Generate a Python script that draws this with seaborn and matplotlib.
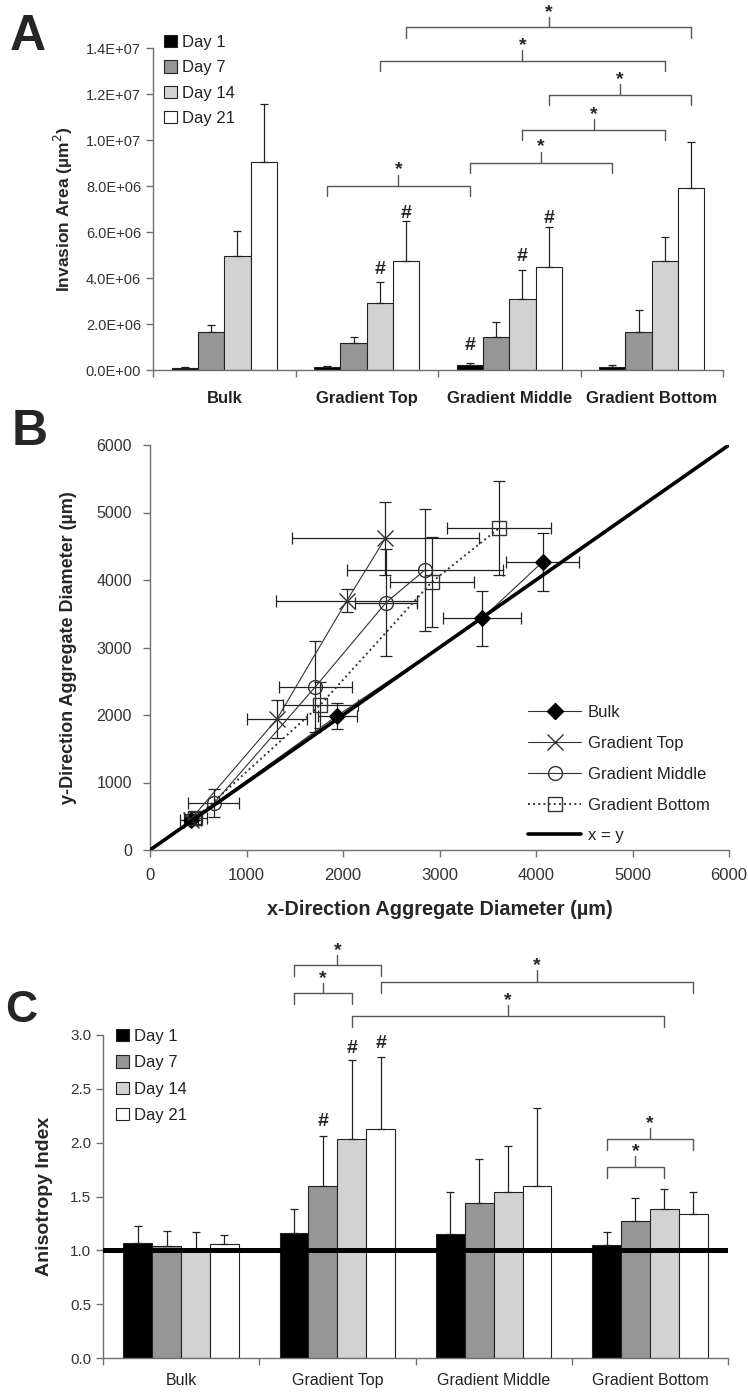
"""
Three-panel figure: invasion area, aggregate diameters, anisotropy index
"""

import matplotlib
matplotlib.use('Agg')
import matplotlib.pyplot as plt
import matplotlib.patches as mpatches
from matplotlib.lines import Line2D
import seaborn as sns
import numpy as np
import pandas as pd

sns.set_style('ticks')
plt.rcParams['font.family'] = ['Liberation Sans', 'DejaVu Sans']

groups = ['Bulk', 'Gradient Top', 'Gradient Middle', 'Gradient Bottom']
days = ['Day 1', 'Day 7', 'Day 14', 'Day 21']
day_colors = ['#000000', '#969696', '#d2d2d2', '#ffffff']

# Panel A - invasion area (um^2), rows = group, cols = day
area_mean = [[0.08e6, 1.64e6, 4.96e6, 9.03e6],
             [0.12e6, 1.16e6, 2.90e6, 4.75e6],
             [0.22e6, 1.45e6, 3.10e6, 4.49e6],
             [0.12e6, 1.64e6, 4.75e6, 7.90e6]]
area_err = [[0.05e6, 0.32e6, 1.10e6, 2.55e6],
            [0.04e6, 0.29e6, 0.94e6, 1.73e6],
            [0.07e6, 0.62e6, 1.25e6, 1.74e6],
            [0.08e6, 0.98e6, 1.05e6, 2.03e6]]

# Panel B - aggregate diameters (um), day 1/7/14/21
bulk_x = [430, 1940, 3440, 4070]
bulk_y = [440, 1990, 3430, 4270]
bulk_xerr = [70, 200, 400, 380]
bulk_yerr = [50, 195, 410, 430]
top_x = [420, 1315, 2040, 2440]
top_y = [450, 1940, 3695, 4620]
top_xerr = [110, 310, 730, 970]
top_yerr = [80, 275, 165, 540]
mid_x = [660, 1715, 2445, 2850]
mid_y = [690, 2420, 3665, 4150]
mid_xerr = [265, 377, 320, 810]
mid_yerr = [208, 676, 795, 900]
bot_x = [470, 1765, 2920, 3620]
bot_y = [470, 2150, 3970, 4770]
bot_xerr = [120, 390, 437, 540]
bot_yerr = [90, 340, 660, 690]

# Panel C - anisotropy index
aniso_mean = [[1.07, 1.04, 1.00, 1.06],
              [1.16, 1.60, 2.03, 2.13],
              [1.15, 1.44, 1.54, 1.60],
              [1.05, 1.27, 1.38, 1.34]]
aniso_err = [[0.16, 0.14, 0.17, 0.08],
             [0.22, 0.46, 0.74, 0.67],
             [0.39, 0.41, 0.43, 0.72],
             [0.12, 0.22, 0.19, 0.20]]

# significance marks: (group1, day1, group2, day2, bracket y, tick top)
a_brackets = [(1, 3, 3, 3, 14.9e6, 15.35e6), (1, 2, 3, 2, 13.43e6, 13.9e6),
              (2, 3, 3, 3, 11.96e6, 12.43e6), (2, 2, 3, 2, 10.43e6, 10.9e6),
              (2, 0, 3, 0, 9.0e6, 9.5e6), (1, 0, 2, 0, 8.0e6, 8.5e6)]
a_hash = [(1, 2, 4.35e6), (1, 3, 6.81e6), (2, 0, 1.05e6), (2, 2, 4.93e6), (2, 3, 6.6e6)]
c_brackets = [(1, 0, 1, 3, 3.649, 3.742), (1, 0, 1, 2, 3.392, 3.479),
              (1, 3, 3, 3, 3.494, 3.60), (1, 2, 3, 2, 3.175, 3.278),
              (3, 0, 3, 3, 2.03, 2.133), (3, 0, 3, 2, 1.77, 1.876)]
c_hash = [(1, 1, 2.2), (1, 2, 2.87), (1, 3, 2.92)]

W, H = 748, 1392
BAR_W = 0.74
AX_COLOR = '#707070'
TXT_COLOR = '#333333'
BR_COLOR = '#555555'


def px_axes(left, top, right, bottom):
    return fig.add_axes([left / W, 1 - bottom / H, (right - left) / W, (bottom - top) / H])


def bar_x(g, d):
    return g - BAR_W / 2 + BAR_W / 4 * (d + 0.5)


def style_axes(ax):
    sns.despine(ax=ax)
    for s in ['left', 'bottom']:
        ax.spines[s].set_color(AX_COLOR)
        ax.spines[s].set_linewidth(1.0)
    ax.tick_params(direction='out', length=5, width=1, color=AX_COLOR, labelcolor=TXT_COLOR)


def grouped_bars(ax, means, errs):
    df = pd.DataFrame({'group': np.repeat(groups, 4),
                       'day': days * 4,
                       'value': np.ravel(means)})
    sns.barplot(data=df, x='group', y='value', hue='day', order=groups, hue_order=days,
                palette=dict(zip(days, day_colors)), saturation=1, width=BAR_W, gap=0,
                errorbar=None, edgecolor='#222222', linewidth=0.8, legend=False, ax=ax)
    m = np.array(means)
    e = np.array(errs)
    bar_conts = list(ax.containers)
    for j, cont in enumerate(bar_conts):
        xs = [p.get_x() + p.get_width() / 2 for p in cont.patches]
        ax.errorbar(xs, m[:, j], yerr=[np.zeros(4), e[:, j]], fmt='none', ecolor='#222222',
                    elinewidth=0.9, capsize=3, capthick=0.9, zorder=3)
    ax.set_xlim(-0.5, 3.5)
    ax.set_xticks([-0.5, 0.5, 1.5, 2.5, 3.5])
    ax.set_xticklabels([])
    ax.set_xlabel('')


def brackets(ax, items, leg):
    for g1, d1, g2, d2, yb, yt in items:
        x1, x2 = bar_x(g1, d1), bar_x(g2, d2)
        xm = (x1 + x2) / 2
        ax.plot([x1, x1, x2, x2], [yb - leg, yb, yb, yb - leg], color=BR_COLOR, lw=1, clip_on=False)
        ax.plot([xm, xm], [yb, yt], color=BR_COLOR, lw=1, clip_on=False)
        ax.text(xm, yt, '*', ha='center', va='baseline', fontsize=14, fontweight='bold', clip_on=False)


def hashes(ax, items):
    for g, d, y in items:
        ax.text(bar_x(g, d), y, '#', ha='center', va='center', fontsize=14, fontweight='bold')


def day_legend(ax, x, y, spacing):
    handles = [mpatches.Patch(facecolor=c, edgecolor='#222222', linewidth=0.8) for c in day_colors]
    ax.legend(handles, days, loc='upper left', bbox_to_anchor=(x / W, 1 - y / H),
              bbox_transform=fig.transFigure, frameon=False, borderpad=0, borderaxespad=0,
              handlelength=0.75, handleheight=0.75, handletextpad=0.3, labelspacing=spacing,
              fontsize=12, labelcolor='#222222')


fig = plt.figure(figsize=(W / 100, H / 100), dpi=100)

# ---------------- Panel A ----------------
axA = px_axes(153, 48, 723, 370)
grouped_bars(axA, area_mean, area_err)
style_axes(axA)
axA.set_ylim(0, 1.4e7)
axA.set_yticks(np.arange(0, 1.41e7, 2e6))
axA.set_yticklabels([f'{v:.1E}' for v in np.arange(0, 1.41e7, 2e6)], fontsize=10.5)
axA.set_xticks(range(4), groups, minor=True, fontsize=12, fontweight='bold', color='#222222')
axA.tick_params(axis='x', which='minor', length=0, pad=15)
axA.set_ylabel('Invasion Area (µm$^2$)', fontsize=12.5, fontweight='bold', labelpad=8)
brackets(axA, a_brackets, 0.45e6)
hashes(axA, a_hash)
day_legend(axA, 164, 35, 0.62)

# ---------------- Panel B ----------------
axB = px_axes(150, 445, 729, 850)
series = [
    ('Bulk', bulk_x, bulk_y, bulk_xerr, bulk_yerr, dict(marker='D', markersize=8, markerfacecolor='black', markeredgecolor='black', linestyle='-', linewidth=0.8)),
    ('Gradient Top', top_x, top_y, top_xerr, top_yerr, dict(marker='x', markersize=11, markerfacecolor='none', markeredgecolor='#333333', markeredgewidth=1, linestyle='-', linewidth=0.8)),
    ('Gradient Middle', mid_x, mid_y, mid_xerr, mid_yerr, dict(marker='o', markersize=10, markerfacecolor='none', markeredgecolor='#333333', markeredgewidth=1, linestyle='-', linewidth=0.8)),
    ('Gradient Bottom', bot_x, bot_y, bot_xerr, bot_yerr, dict(marker='s', markersize=10, markerfacecolor='none', markeredgecolor='#333333', markeredgewidth=1, linestyle=':', linewidth=1.4)),
]
handles = []
for name, xs, ys, xe, ye, kw in series:
    axB.errorbar(xs, ys, xerr=xe, yerr=ye, fmt='none', ecolor='#222222', elinewidth=0.9,
                 capsize=4, capthick=0.9, zorder=2)
    sns.lineplot(x=xs, y=ys, sort=False, estimator=None, color='#333333', ax=axB, zorder=3, **kw)
    handles.append(Line2D([], [], color='#333333', **kw))
axB.axline((0, 0), slope=1, color='black', lw=2.6, zorder=4)
handles.append(Line2D([], [], color='black', lw=2.6))
style_axes(axB)
axB.set_xlim(0, 6000)
axB.set_ylim(0, 6000)
axB.set_xticks(np.arange(0, 6001, 1000))
axB.set_yticks(np.arange(0, 6001, 1000))
axB.set_xticklabels([str(v) for v in range(0, 6001, 1000)], fontsize=12)
axB.set_yticklabels([str(v) for v in range(0, 6001, 1000)], fontsize=11.5)
axB.tick_params(axis='x', pad=8)
axB.tick_params(axis='y', pad=8)
axB.set_xlabel('x-Direction Aggregate Diameter (µm)', fontsize=14.3,
               fontweight='bold', labelpad=12)
axB.set_ylabel('y-Direction Aggregate Diameter (µm)', fontsize=13, fontweight='bold', labelpad=14)
axB.legend(handles, [s[0] for s in series] + ['x = y'], loc='upper left',
           bbox_to_anchor=(528 / W, 1 - 705 / H), bbox_transform=fig.transFigure,
           frameon=False, borderpad=0, borderaxespad=0, handlelength=3.2, handletextpad=0.4,
           labelspacing=0.95, fontsize=12, labelcolor='#222222')

# ---------------- Panel C ----------------
axC = px_axes(103, 1035, 728, 1358)
grouped_bars(axC, aniso_mean, aniso_err)
style_axes(axC)
axC.axhline(1.0, color='black', lw=3.6, zorder=5)
axC.set_ylim(0, 3.0)
axC.set_yticks(np.arange(0, 3.01, 0.5))
axC.set_yticklabels([f'{v:.1f}' for v in np.arange(0, 3.01, 0.5)], fontsize=11)
axC.set_xticks(range(4), groups, minor=True, fontsize=11.5, color='#222222')
axC.tick_params(axis='x', which='minor', length=0, pad=11)
axC.set_ylabel('Anisotropy Index', fontsize=14, fontweight='bold', labelpad=12)
brackets(axC, c_brackets, 0.1)
hashes(axC, c_hash)
day_legend(axC, 116, 1029, 0.68)

# panel letters
fig.text(10 / W, 1 - 50 / H, 'A', fontsize=36, fontweight='bold', va='baseline')
fig.text(12 / W, 1 - 445 / H, 'B', fontsize=36, fontweight='bold', va='baseline')
fig.text(5 / W, 1 - 1022 / H, 'C', fontsize=32, fontweight='bold', va='baseline')

fig.savefig('out.png', dpi=100)
